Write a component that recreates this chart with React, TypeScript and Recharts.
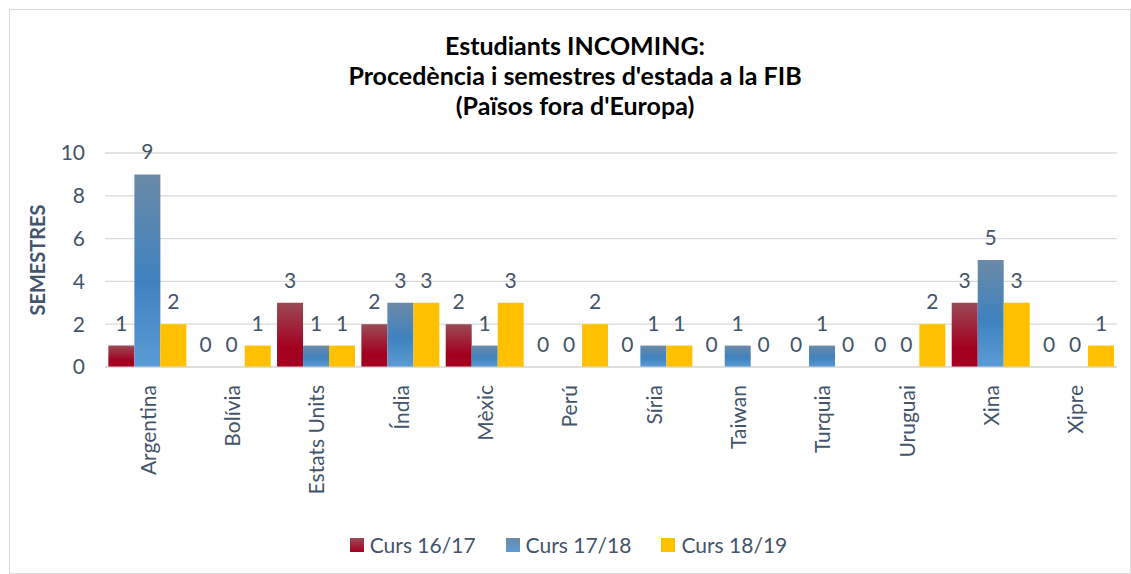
import { BarChart, Bar, XAxis, YAxis, CartesianGrid, LabelList, Legend } from "recharts";

const countries = ["Argentina", "Bolívia", "Estats Units", "Índia", "Mèxic", "Perú", "Síria", "Taiwan", "Turquia", "Uruguai", "Xina", "Xipre"];
const curs1617 = [1, 0, 3, 2, 2, 0, 0, 0, 0, 0, 3, 0];
const curs1718 = [9, 0, 1, 3, 1, 0, 1, 1, 1, 0, 5, 0];
const curs1819 = [2, 1, 1, 3, 3, 2, 1, 0, 0, 2, 3, 1];
const yTicks = [0, 2, 4, 6, 8, 10];
const titleLines = ["Estudiants INCOMING:", "Procedència i semestres d'estada a la FIB", "(Països fora d'Europa)"];

const series = [
  { key: "c1617", name: "Curs 16/17", fill: "url(#gRed)" },
  { key: "c1718", name: "Curs 17/18", fill: "url(#gBlue)" },
  { key: "c1819", name: "Curs 18/19", fill: "#FFC000" },
];

const data = countries.map((c, i) => ({
  country: c,
  c1617: curs1617[i],
  c1718: curs1718[i],
  c1819: curs1819[i],
}));

const FONT = "Lato, 'Open Sans', sans-serif";
const TEXT = "#44546A";

function XTick(props: any) {
  const { x, y, payload } = props;
  return (
    <text x={x} y={y + 10} transform={`rotate(-90, ${x}, ${y + 10})`} textAnchor="end" dominantBaseline="central" fontSize={21} fill={TEXT} fontFamily={FONT}>
      {payload.value}
    </text>
  );
}

function LegendBox() {
  return (
    <div style={{ display: "flex", justifyContent: "center", gap: 30, fontFamily: FONT, fontSize: 21, color: TEXT }}>
      {series.map((s, i) => (
        <div key={s.key} style={{ display: "flex", alignItems: "center", gap: 6 }}>
          <div
            style={{
              width: 14,
              height: 14,
              background: i === 0 ? "linear-gradient(#9a4a56, #a50021)" : i === 1 ? "linear-gradient(#6b8aa6, #5b9bd5)" : "#FFC000",
            }}
          />
          <span>{s.name}</span>
        </div>
      ))}
    </div>
  );
}

export default function App() {
  return (
    <div style={{ position: "absolute", left: 0, top: 0, width: 1131, height: 574, background: "#fff" }}>
      <div style={{ position: "absolute", left: 9, top: 9, width: 1120, height: 563, border: "1px solid #d9d9d9" }} />
      <div style={{ position: "absolute", left: 0, top: 30, width: 1150, textAlign: "center", fontFamily: FONT, fontWeight: 700, fontSize: 25, lineHeight: "30px", color: "#000" }}>
        {titleLines.map((t) => (
          <div key={t}>{t}</div>
        ))}
      </div>
      <div style={{ position: "absolute", left: 0, top: 0 }}>
        <BarChart width={1131} height={574} data={data} margin={{ top: 153, right: 14, left: 20, bottom: 10 }} barCategoryGap="4%" barGap={0}>
          <defs>
            <linearGradient id="gRed" x1="0" y1="0" x2="0" y2="1">
              <stop offset="0%" stopColor="#9a4a56" />
              <stop offset="70%" stopColor="#a3001f" />
              <stop offset="100%" stopColor="#a50021" />
            </linearGradient>
            <linearGradient id="gBlue" x1="0" y1="0" x2="0" y2="1">
              <stop offset="0%" stopColor="#6b8aa6" />
              <stop offset="55%" stopColor="#3f82bf" />
              <stop offset="100%" stopColor="#5b9bd5" />
            </linearGradient>
          </defs>
          <CartesianGrid vertical={false} stroke="#d9d9d9" strokeWidth={1.3} />
          <XAxis dataKey="country" interval={0} height={165} tick={<XTick />} axisLine={{ stroke: "#d9d9d9" }} tickLine={false} />
          <YAxis
            domain={[0, 10]}
            ticks={yTicks}
            width={85}
            axisLine={false}
            tickLine={false}
            tick={{ fontSize: 21, fill: TEXT, fontFamily: FONT }}
            tickMargin={14}
            label={{ value: "SEMESTRES", angle: -90, position: "insideLeft", dx: 13, style: { fontSize: 20, fontWeight: 700, fill: TEXT, fontFamily: FONT, textAnchor: "middle" } }}
          />
          <Legend verticalAlign="bottom" height={32} content={<LegendBox />} />
          {series.map((s) => (
            <Bar key={s.key} dataKey={s.key} name={s.name} fill={s.fill} minPointSize={0.01} isAnimationActive={false}>
              <LabelList dataKey={s.key} position="top" offset={15} fill={TEXT} fontSize={21} fontFamily={FONT} />
            </Bar>
          ))}
        </BarChart>
      </div>
    </div>
  );
}
